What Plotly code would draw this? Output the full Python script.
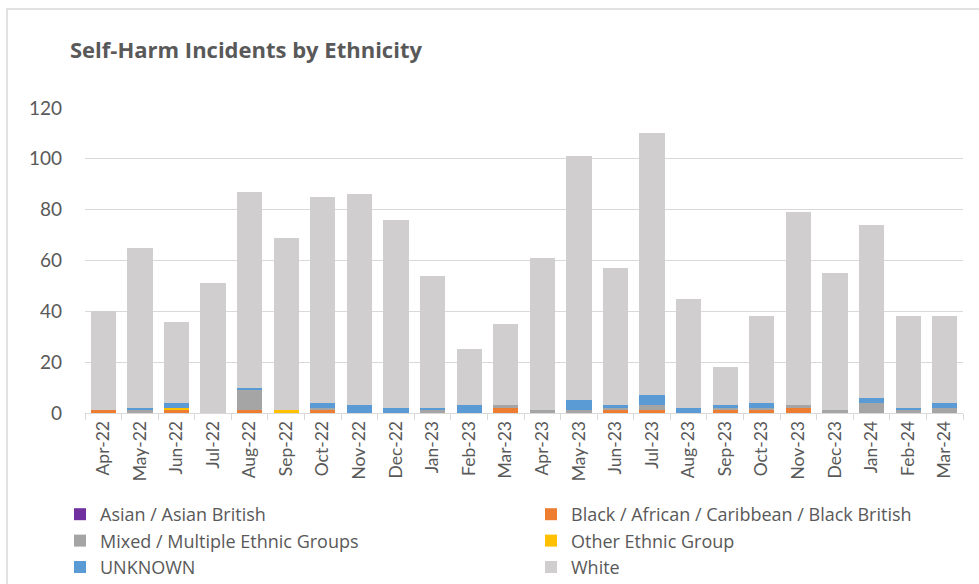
import plotly.graph_objects as go

months = ["Apr-22", "May-22", "Jun-22", "Jul-22", "Aug-22", "Sep-22", "Oct-22", "Nov-22",
          "Dec-22", "Jan-23", "Feb-23", "Mar-23", "Apr-23", "May-23", "Jun-23", "Jul-23",
          "Aug-23", "Sep-23", "Oct-23", "Nov-23", "Dec-23", "Jan-24", "Feb-24", "Mar-24"]

asian = [0] * 24
black = [1, 0, 1, 0, 1, 0, 1, 0, 0, 0, 0, 2, 0, 0, 1, 1, 0, 1, 1, 2, 0, 0, 0, 0]
mixed = [0, 1, 0, 0, 8, 0, 1, 0, 0, 1, 0, 1, 1, 1, 1, 2, 0, 1, 1, 1, 1, 4, 1, 2]
other = [0, 0, 1, 0, 0, 1, 0, 0, 0, 0, 0, 0, 0, 0, 0, 0, 0, 0, 0, 0, 0, 0, 0, 0]
unknown = [0, 1, 2, 0, 1, 0, 2, 3, 2, 1, 3, 0, 0, 4, 1, 4, 2, 1, 2, 0, 0, 2, 1, 2]
white = [39, 63, 32, 51, 77, 68, 81, 83, 74, 52, 22, 32, 60, 96, 54, 103, 43, 15, 34, 76, 54, 68, 36, 34]

# (name, values, colour, legend column)
series = [
    ("Asian / Asian British", asian, "#7030A0", "legend"),
    ("Black / African / Caribbean / Black British", black, "#ED7D31", "legend2"),
    ("Mixed / Multiple Ethnic Groups", mixed, "#A5A5A5", "legend"),
    ("Other Ethnic Group", other, "#FFC000", "legend2"),
    ("UNKNOWN", unknown, "#5B9BD5", "legend"),
    ("White", white, "#D0CECE", "legend2"),
]

FONT = "Lato"
fig = go.Figure()
for name, vals, col, lg in series:
    fig.add_trace(go.Bar(x=months, y=vals, name=name, legend=lg,
                         marker=dict(color=col, line=dict(width=0))))

L, R, T, B = 85, 16, 108, 171
W, H = 979, 584
pw, ph = W - L - R, H - T - B

def px(x):
    return (x - L) / pw

def py(y):
    return (H - B - y) / ph

legfont = dict(size=18, color="#595959", family="Open Sans")

fig.update_layout(
    barmode="stack",
    bargap=0.31,
    width=W, height=H,
    margin=dict(l=L, r=R, t=T, b=B, pad=0, autoexpand=False),
    paper_bgcolor="white", plot_bgcolor="white",
    font=dict(family=FONT, color="#595959"),
    title=dict(text="<b>Self-Harm Incidents by Ethnicity</b>", x=70 / W, xanchor="left",
               y=1 - 50 / H, yanchor="middle",
               font=dict(size=22, color="#595959", family="Open Sans")),
    xaxis=dict(type="category", tickangle=-90, tickfont=dict(size=17.5, color="#595959"),
               showline=True, linecolor="#D9D9D9", linewidth=1, ticks="outside", ticklen=6,
               tickcolor="#D9D9D9", tickson="boundaries", showgrid=False),
    yaxis=dict(range=[0, 120], dtick=20, showgrid=True, gridcolor="#D9D9D9", gridwidth=1,
               tickfont=dict(size=19, color="#595959"), zeroline=False, ticks="",
               ticklabelstandoff=22),
    legend=dict(orientation="v", x=px(60), xanchor="left", y=py(496), yanchor="top",
                itemwidth=30, font=legfont, traceorder="normal", bgcolor="rgba(0,0,0,0)"),
    legend2=dict(orientation="v", x=px(531), xanchor="left", y=py(496), yanchor="top",
                 itemwidth=30, font=legfont, traceorder="normal", bgcolor="rgba(0,0,0,0)"),
    shapes=[dict(type="rect", xref="paper", yref="paper", x0=px(7), x1=px(995), y0=py(600), y1=py(9),
                 line=dict(color="#D9D9D9", width=1.5), layer="below")],
)

fig.write_html("out.html")
